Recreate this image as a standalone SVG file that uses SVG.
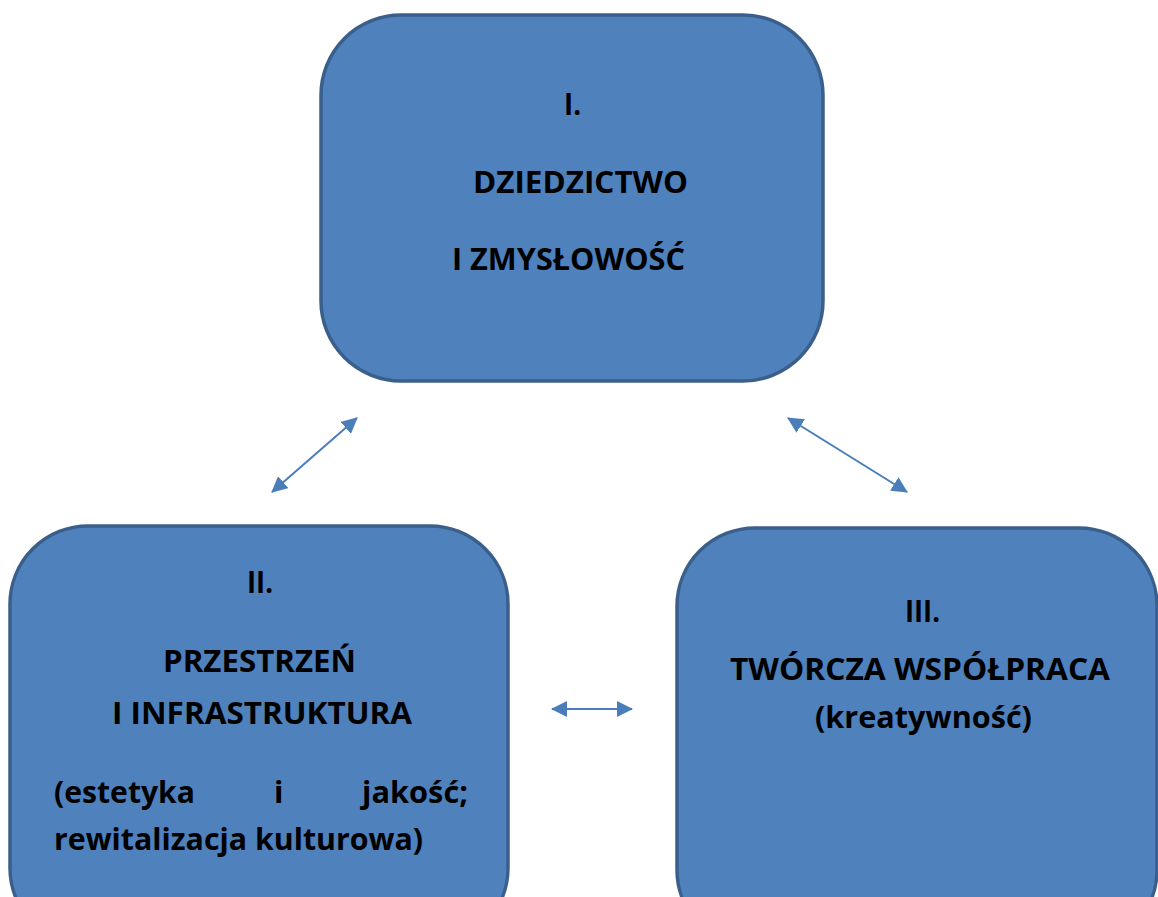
<svg xmlns="http://www.w3.org/2000/svg" width="1158" height="897" viewBox="0 0 1158 897">
<style>
.box{fill:#4f81bd;stroke:#3a5f8b;stroke-width:3.5}
.t{font-family:"Open Sans","Liberation Sans",sans-serif;font-weight:bold;font-size:31px;fill:#000}
.con{stroke:#4a7ebb;stroke-width:2;fill:none;marker-start:url(#ah);marker-end:url(#ah)}
</style>
<defs>
<marker id="ah" viewBox="0 0 16 16" refX="15" refY="8" markerWidth="16" markerHeight="16" markerUnits="userSpaceOnUse" orient="auto-start-reverse">
<path d="M0,0 L16,8 L0,16 z" fill="#4a7ebb"/>
</marker>
</defs>
<rect width="1158" height="897" fill="#fff"/>
<g id="node-1">
<rect class="box" x="321" y="15" width="502" height="366" rx="80" ry="80"/>
<text class="t" x="564" y="115" textLength="17" lengthAdjust="spacingAndGlyphs">I.</text>
<text class="t" x="473" y="193" textLength="215" lengthAdjust="spacingAndGlyphs">DZIEDZICTWO</text>
<text class="t" x="452" y="270" textLength="233" lengthAdjust="spacingAndGlyphs">I ZMYSŁOWOŚĆ</text>
</g>
<g id="node-2">
<rect class="box" x="10" y="526" width="498" height="420" rx="78" ry="78"/>
<text class="t" x="247" y="593" textLength="26" lengthAdjust="spacingAndGlyphs">II.</text>
<text class="t" x="163" y="672" textLength="193" lengthAdjust="spacingAndGlyphs">PRZESTRZEŃ</text>
<text class="t" x="112" y="724" textLength="300" lengthAdjust="spacingAndGlyphs">I INFRASTRUKTURA</text>
<text class="t" x="54" y="803" textLength="141" lengthAdjust="spacingAndGlyphs">(estetyka</text>
<text class="t" x="274" y="803">i</text>
<text class="t" x="362" y="803" textLength="106" lengthAdjust="spacingAndGlyphs">jakość;</text>
<text class="t" x="54" y="850" textLength="369" lengthAdjust="spacingAndGlyphs">rewitalizacja kulturowa)</text>
</g>
<g id="node-3">
<rect class="box" x="677" y="528" width="480" height="420" rx="78" ry="78"/>
<text class="t" x="905" y="622" textLength="35" lengthAdjust="spacingAndGlyphs">III.</text>
<text class="t" x="730" y="680" textLength="380" lengthAdjust="spacingAndGlyphs">TWÓRCZA WSPÓŁPRACA</text>
<text class="t" x="815" y="728" textLength="217" lengthAdjust="spacingAndGlyphs">(kreatywność)</text>
</g>
<g id="connectors">
<line class="con" x1="357" y1="418" x2="272" y2="492"/>
<line class="con" x1="788" y1="418" x2="907" y2="492"/>
<line class="con" x1="552" y1="709" x2="632" y2="709"/>
</g>
</svg>
